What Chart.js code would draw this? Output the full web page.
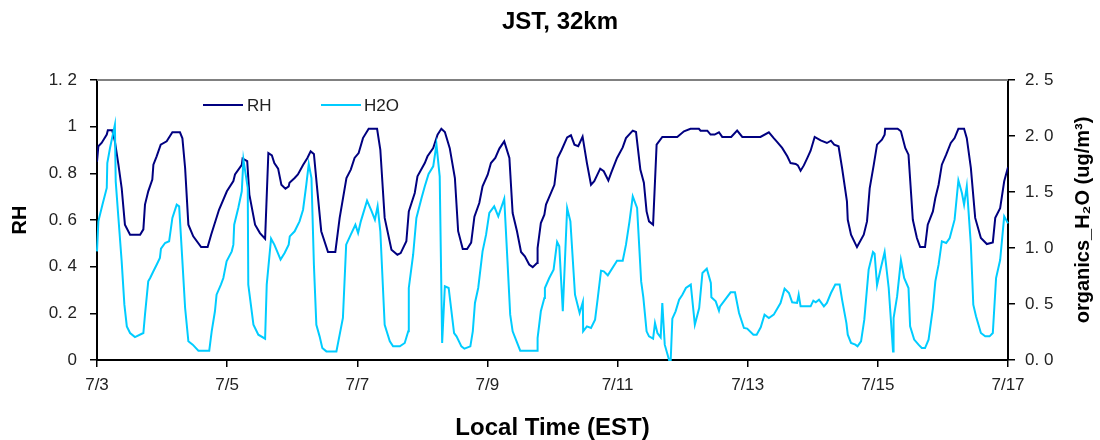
<!DOCTYPE html>
<html>
<head>
<meta charset="utf-8">
<script src="https://cdn.jsdelivr.net/npm/chart.js@4.4.1/dist/chart.umd.min.js"></script>
<style>
body { margin: 0; background: #fff; }
#wrap { width: 1100px; height: 440px; }
</style>
</head>
<body>
<div id="wrap"><canvas id="myChart" width="1100" height="440"></canvas></div>
<script>
const chartTitle = 'JST, 32km';
const xTitle = 'Local Time (EST)';
const leftTitle = 'RH';
const rightTitle = 'organics_H\u2082O (ug/m\u00b3)';

// x axis: hours after 7/3 00:00, a tick every 2 days
const dateLabels = ['7/3', '7/5', '7/7', '7/9', '7/11', '7/13', '7/15', '7/17'];
const rhTickLabels = ['0', '0. 2', '0. 4', '0. 6', '0. 8', '1', '1. 2'];
const h2oTickLabels = ['0. 0', '0. 5', '1. 0', '1. 5', '2. 0', '2. 5'];

// RH (left axis)
const rhHours = [0, 0.5, 1.7, 3.6, 4, 5.6, 6.6, 7.9, 9.1, 10.3, 12.2, 15.9, 17.1, 17.7, 18.9, 20.4, 20.8, 22, 23.5, 25.7,
  27.8, 30.6, 31.5, 32.5, 33.7, 35.5, 38.4, 40.8, 42.1, 45, 47.9, 50.3, 50.9, 53.4, 53.7, 55.4, 56.2, 58.3, 60.1, 62,
  63.2, 64.5, 65.4, 66.8, 68, 69.5, 70.7, 71, 72.9, 74.1, 76, 77.6, 78.8, 80, 81.3, 82.7, 85.2, 87.9, 89.5, 92,
  93.6, 95, 96.5, 98.1, 100.2, 103.3, 104.5, 106.1, 108.6, 110.8, 112, 114.1, 115, 117.2, 118.2, 120.9, 121.9, 124, 125.6, 127,
  128.3, 130.1, 132, 133.2, 134.9, 136.5, 138, 139.2, 141, 142.2, 144.1, 145.3, 146.9, 148.4, 150.2, 152.1, 153.3, 154.9, 156.4, 157.8,
  159.4, 160.7, 162.3, 162.5, 163.7, 165, 165.6, 168.7, 169.9, 171.4, 173.4, 174.8, 176.1, 177.5, 179.1, 180.7, 182.2, 183.4, 185.6, 186.9,
  188.6, 189.6, 191.8, 193.9, 195.1, 197.6, 198.8, 200.4, 201.7, 202.7, 203.6, 205.1, 206.4, 208.5, 214, 216.5, 218.9, 222, 222.6, 225.1,
  226.3, 227.8, 229.4, 230.6, 233.9, 236.1, 238, 244.7, 247.8, 249.6, 250.9, 252.7, 254.6, 255.8, 257.7, 258.5, 259.5, 260.7, 262, 263.2,
  264.7, 266.9, 269.2, 270.7, 271.9, 273.5, 274.8, 276.6, 276.9, 278.1, 280.3, 282.8, 284, 285, 286.5, 287.7, 289.5, 290.5, 290.7, 295.3,
  296.5, 298.1, 299.3, 300.9, 302.4, 303.6, 305.4, 306.4, 308.3, 309.2, 310.4, 311.6, 313.2, 314.9, 316.3, 317.7, 319.8, 320.8, 322.3, 323.9,
  326, 328.2, 330.4, 331.3, 333.1, 334.6, 336];
const rhValues = [0.85, 0.916, 0.93, 0.966, 0.985, 0.985, 0.937, 0.837, 0.737, 0.58, 0.537, 0.537, 0.56, 0.666, 0.723, 0.773, 0.837, 0.873, 0.923, 0.937,
  0.976, 0.976, 0.95, 0.823, 0.58, 0.53, 0.484, 0.484, 0.537, 0.644, 0.723, 0.767, 0.795, 0.836, 0.863, 0.852, 0.709, 0.58, 0.544, 0.52,
  0.887, 0.877, 0.844, 0.82, 0.751, 0.734, 0.744, 0.76, 0.78, 0.795, 0.836, 0.866, 0.894, 0.883, 0.723, 0.552, 0.463, 0.463, 0.609, 0.78,
  0.816, 0.866, 0.887, 0.951, 0.991, 0.991, 0.901, 0.609, 0.473, 0.451, 0.458, 0.509, 0.637, 0.716, 0.787, 0.844, 0.873, 0.908, 0.966, 0.991,
  0.977, 0.908, 0.78, 0.552, 0.476, 0.476, 0.503, 0.614, 0.673, 0.744, 0.794, 0.844, 0.866, 0.906, 0.937, 0.866, 0.63, 0.552, 0.463, 0.444,
  0.409, 0.398, 0.416, 0.48, 0.587, 0.623, 0.666, 0.751, 0.866, 0.901, 0.954, 0.963, 0.923, 0.916, 0.957, 0.844, 0.751, 0.766, 0.82, 0.809,
  0.769, 0.801, 0.866, 0.911, 0.951, 0.983, 0.977, 0.816, 0.76, 0.637, 0.594, 0.58, 0.923, 0.956, 0.956, 0.98, 0.991, 0.991, 0.983, 0.983,
  0.966, 0.966, 0.976, 0.956, 0.956, 0.983, 0.956, 0.956, 0.976, 0.951, 0.934, 0.909, 0.873, 0.844, 0.84, 0.834, 0.811, 0.834, 0.866, 0.897,
  0.956, 0.941, 0.93, 0.94, 0.923, 0.916, 0.823, 0.68, 0.601, 0.537, 0.484, 0.537, 0.594, 0.737, 0.837, 0.923, 0.944, 0.966, 0.991, 0.991,
  0.98, 0.909, 0.88, 0.601, 0.523, 0.484, 0.484, 0.58, 0.637, 0.694, 0.751, 0.837, 0.88, 0.93, 0.951, 0.991, 0.991, 0.951, 0.823, 0.609,
  0.523, 0.497, 0.504, 0.609, 0.651, 0.766, 0.826];

// H2O (right axis)
const h2oHours = [0, 0.5, 2, 3.6, 3.8, 4.8, 6.6, 6.9, 7.9, 9.1, 10.1, 11, 12.2, 14, 17.1, 17.7, 18.9, 19.6, 20.8, 22,
  23.2, 23.6, 25.1, 26.6, 27.8, 29.4, 30.3, 31.5, 32.5, 33.7, 35.3, 37.4, 41.4, 42.3, 43.5, 44.1, 45.7, 46.6, 47.8, 49.7,
  50.3, 50.6, 52.1, 53.4, 54, 55.6, 55.8, 57.7, 59.5, 62, 62.6, 64.2, 65.4, 66.6, 67.7, 69.2, 70.7, 71.1, 72.9, 74.7,
  76, 77.2, 78.1, 79.1, 80, 80.9, 82.1, 83.1, 84.6, 88.3, 90.7, 91.9, 93.6, 95.3, 96.3, 97.3, 99.6, 101.2, 102.5, 103.5,
  104.5, 106.1, 108, 109.2, 111.7, 113.5, 114.8, 115, 116.6, 117.8, 119.7, 120.9, 122.3, 124, 125.2, 126.4, 127.3, 128.3, 129.7, 131.7,
  132.6, 134.4, 135.5, 137.7, 138.6, 139.4, 140.6, 142.2, 143.5, 144.7, 146.5, 148, 150.2, 151.4, 152.4, 153.3, 154.5, 156.1, 162.3, 162.5,
  163.7, 165, 165.2, 166.8, 168.4, 169.7, 170.5, 171.8, 173.4, 174.6, 176.3, 178, 179.2, 179.3, 180.7, 182.2, 183.7, 184.7, 185.9, 186.9,
  188.4, 191.8, 193.9, 195.1, 196.4, 197.6, 199.2, 200.7, 201.5, 202.7, 203.6, 205.1, 205.8, 206.7, 207.9, 208.5, 209.4, 211, 211.6, 212.2,
  213.4, 214.7, 215.9, 217.2, 219, 220.5, 222.1, 223.3, 224.9, 226.4, 226.6, 228.2, 229.4, 229.8, 233.7, 235.3, 236.8, 238.6, 239.8, 242.1,
  243.3, 244.8, 246.2, 247.8, 249.6, 252.1, 253.6, 255.2, 256.4, 258.2, 258.8, 259.5, 263.2, 264.2, 265.1, 266.3, 268.1, 269.2, 270.7, 272.3,
  273.9, 274.8, 276.4, 276.9, 278.1, 279.7, 280.5, 281.8, 283, 284.6, 286.2, 286.8, 287.7, 289.1, 290.5, 292, 293.6, 293.8, 295.1, 296.5,
  297.7, 299.3, 299.9, 301.4, 303, 304.2, 305.4, 306.7, 308.3, 309.2, 310.4, 311.6, 313.2, 314.5, 316.3, 317.7, 319, 319.8, 320.8, 322.3,
  323.2, 324.2, 326, 327.6, 329.2, 330.4, 331.6, 333.1, 334.6, 336];
const h2oValues = [0.97, 1.238, 1.387, 1.536, 1.759, 1.893, 2.1, 1.595, 1.268, 0.881, 0.494, 0.3, 0.241, 0.205, 0.241, 0.405, 0.702, 0.732, 0.792, 0.851,
  0.911, 0.994, 1.045, 1.06, 1.268, 1.387, 1.372, 0.881, 0.464, 0.167, 0.137, 0.083, 0.083, 0.256, 0.435, 0.583, 0.673, 0.732, 0.881, 0.97,
  1.03, 1.208, 1.357, 1.506, 1.789, 1.536, 0.673, 0.315, 0.226, 0.19, 0.673, 1.083, 1.03, 0.96, 0.896, 0.955, 1.03, 1.104, 1.149, 1.238,
  1.342, 1.565, 1.75, 1.625, 0.851, 0.315, 0.211, 0.107, 0.077, 0.077, 0.375, 1.03, 1.12, 1.208, 1.134, 1.238, 1.423, 1.333, 1.253, 1.372,
  1.149, 0.315, 0.167, 0.122, 0.122, 0.152, 0.256, 0.643, 0.94, 1.268, 1.446, 1.551, 1.661, 1.729, 1.923, 1.637, 0.152, 0.658, 0.643, 0.241,
  0.211, 0.122, 0.101, 0.122, 0.256, 0.509, 0.643, 0.97, 1.119, 1.313, 1.372, 1.283, 1.44, 0.881, 0.405, 0.256, 0.182, 0.083, 0.083, 0.196,
  0.435, 0.554, 0.643, 0.732, 0.807, 1.054, 1.015, 0.435, 1.357, 1.238, 0.583, 0.42, 0.518, 0.256, 0.3, 0.286, 0.36, 0.554, 0.798, 0.792,
  0.756, 0.887, 0.887, 1.03, 1.238, 1.461, 1.357, 0.702, 0.56, 0.256, 0.211, 0.19, 0.33, 0.241, 0.202, 0.509, 0.137, 0, 0, 0.369,
  0.435, 0.539, 0.583, 0.643, 0.673, 0.315, 0.464, 0.777, 0.815, 0.688, 0.56, 0.524, 0.44, 0.479, 0.604, 0.604, 0.42, 0.286, 0.28, 0.226,
  0.226, 0.292, 0.405, 0.375, 0.405, 0.509, 0.637, 0.598, 0.515, 0.509, 0.583, 0.479, 0.479, 0.53, 0.515, 0.539, 0.479, 0.509, 0.598, 0.673,
  0.673, 0.539, 0.33, 0.226, 0.152, 0.137, 0.122, 0.167, 0.36, 0.807, 0.964, 0.949, 0.667, 0.821, 0.964, 0.643, 0.077, 0.375, 0.568, 0.89,
  0.732, 0.643, 0.3, 0.182, 0.137, 0.107, 0.107, 0.182, 0.464, 0.702, 0.851, 1.06, 1.045, 1.089, 1.253, 1.604, 1.491, 1.387, 1.551, 1.03,
  0.494, 0.39, 0.241, 0.211, 0.211, 0.241, 0.732, 0.893, 1.283, 1.22];

const rhColor = '#000080';
const h2oColor = '#00CCFF';
const fontFamily = '"Liberation Sans", Arial, sans-serif';

const rhData = rhHours.map((h, i) => ({ x: h, y: rhValues[i] }));
const h2oData = h2oHours.map((h, i) => ({ x: h, y: h2oValues[i] }));

// title, legend inside plot, grey top frame, right axis title (reads bottom to top)
const extras = {
  id: 'extras',
  afterDraw(chart) {
    const ctx = chart.ctx;
    const a = chart.chartArea;
    ctx.save();
    ctx.strokeStyle = '#808080';
    ctx.lineWidth = 2;
    ctx.beginPath();
    ctx.moveTo(a.left, a.top);
    ctx.lineTo(a.right, a.top);
    ctx.stroke();

    ctx.fillStyle = '#000';
    ctx.textAlign = 'center';
    ctx.textBaseline = 'middle';
    ctx.font = 'bold 24px ' + fontFamily;
    ctx.fillText(chartTitle, 560, 22);

    // legend
    ctx.lineWidth = 2;
    ctx.font = '17px ' + fontFamily;
    ctx.textAlign = 'left';
    ctx.fillStyle = '#222';
    ctx.strokeStyle = rhColor;
    ctx.beginPath(); ctx.moveTo(203, 105); ctx.lineTo(243, 105); ctx.stroke();
    ctx.fillText('RH', 247, 106);
    ctx.strokeStyle = h2oColor;
    ctx.beginPath(); ctx.moveTo(321, 105); ctx.lineTo(361, 105); ctx.stroke();
    ctx.fillText('H2O', 364, 106);

    ctx.fillStyle = '#000';
    ctx.font = 'bold 20px ' + fontFamily;
    ctx.textAlign = 'center';
    ctx.translate(1083, 220);
    ctx.rotate(-Math.PI / 2);
    ctx.fillText(rightTitle, 0, 0);
    ctx.restore();
  }
};

const axisGrid = { display: true, drawOnChartArea: false, drawTicks: true, tickLength: 7, color: '#000', lineWidth: 1.5 };
const axisBorder = { display: true, color: '#000', width: 2 };
const tickFont = { family: fontFamily, size: 17 };

new Chart(document.getElementById('myChart').getContext('2d'), {
  type: 'line',
  data: {
    datasets: [
      { label: 'RH', data: rhData, yAxisID: 'y', borderColor: rhColor, borderWidth: 2, pointRadius: 0, tension: 0, order: 1 },
      { label: 'H2O', data: h2oData, yAxisID: 'y2', borderColor: h2oColor, borderWidth: 2, pointRadius: 0, tension: 0, order: 0, clip: 4 }
    ]
  },
  options: {
    responsive: false,
    animation: false,
    devicePixelRatio: 1,
    layout: { padding: { top: 80, left: 0, right: 0, bottom: 0 } },
    plugins: { legend: { display: false }, tooltip: { enabled: false }, title: { display: false } },
    scales: {
      x: {
        type: 'linear', min: 0, max: 336,
        grid: axisGrid, border: axisBorder,
        ticks: {
          stepSize: 48, autoSkip: false, maxRotation: 0, padding: 8, color: '#222', font: tickFont,
          callback: v => dateLabels[Math.round(v / 48)]
        },
        title: { display: true, text: xTitle, color: '#000', font: { family: fontFamily, size: 24, weight: 'bold', lineHeight: 1 }, padding: { top: 0, bottom: 0 } },
        afterFit: s => { s.height = 80; }
      },
      y: {
        position: 'left', min: 0, max: 1.2,
        grid: axisGrid, border: axisBorder,
        ticks: { stepSize: 0.2, padding: 13, color: '#222', font: tickFont, callback: v => rhTickLabels[Math.round(v / 0.2)] },
        title: { display: true, text: leftTitle, color: '#000', font: { family: fontFamily, size: 20, weight: 'bold' }, padding: { top: 8, bottom: 0 } },
        afterFit: s => { s.width = 97; }
      },
      y2: {
        position: 'right', min: 0, max: 2.5,
        grid: axisGrid, border: axisBorder,
        ticks: { stepSize: 0.5, padding: 10, color: '#222', font: tickFont, callback: v => h2oTickLabels[Math.round(v / 0.5)] },
        afterFit: s => { s.width = 92; }
      }
    }
  },
  plugins: [extras]
});
</script>
</body>
</html>
